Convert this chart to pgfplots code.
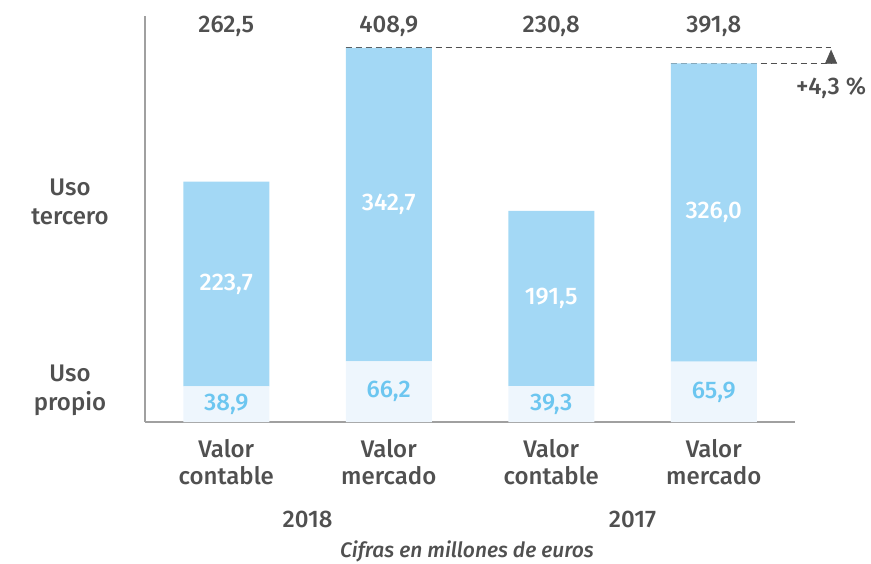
\documentclass[border=0pt]{standalone}
\usepackage{pgfplots}
\pgfplotsset{compat=1.18}
\usepackage{fontspec}
\setmainfont{Fira Sans}[UprightFont=* Medium, ItalicFont=* Medium Italic]
\usetikzlibrary{arrows.meta}
\definecolor{topc}{HTML}{A3D8F5}
\definecolor{botc}{HTML}{EEF6FD}
\definecolor{botlab}{HTML}{6CC6F0}
\definecolor{txt}{HTML}{505050}
\definecolor{axc}{HTML}{A0A0A0}
\begin{document}
\begin{tikzpicture}[x=1pt,y=1pt,font=\fontsize{24}{29}\selectfont]
\path[use as bounding box] (0,0) rectangle (871,563);
\begin{axis}[
  at={(145pt,141pt)}, anchor=south west,
  scale only axis, width=650pt, height=406pt,
  xmin=-0.5, xmax=3.5, ymin=0, ymax=443.7,
  ybar stacked, bar width=86pt,
  axis x line=bottom, axis y line=left,
  axis line style={draw=axc, line width=2pt, -},
  xtick={0,1,2,3}, ytick=\empty,
  xticklabels={{Valor\\contable},{Valor\\mercado},{Valor\\contable},{Valor\\mercado}},
  xticklabel style={align=center, text=txt, font=\fontsize{24}{27}\selectfont, yshift=-14pt},
  major tick length=0pt,
  clip=false,
]
\addplot[fill=botc, draw=none] coordinates {(0,38.9) (1,66.2) (2,39.3) (3,65.9)};
\addplot[fill=topc, draw=none] coordinates {(0,223.7) (1,342.7) (2,191.5) (3,326.0)};
% label anchor coordinates (segment midpoints)
\coordinate (b0) at (axis cs:0,19.45);
\coordinate (b1) at (axis cs:1,33.1);
\coordinate (b2) at (axis cs:2,19.65);
\coordinate (b3) at (axis cs:3,32.95);
\coordinate (t0) at (axis cs:0,150.75);
\coordinate (t1) at (axis cs:1,237.55);
\coordinate (t2) at (axis cs:2,135.05);
\coordinate (t3) at (axis cs:3,228.9);
% totals
\node[txt] at (axis cs:0,443.7) [yshift=-10pt] {262,5};
\node[txt] at (axis cs:1,443.7) [yshift=-10pt] {408,9};
\node[txt] at (axis cs:2,443.7) [yshift=-10pt] {230,8};
\node[txt] at (axis cs:3,443.7) [yshift=-10pt] {391,8};
% comparison
\draw[txt, line width=1pt, dash pattern=on 6pt off 4pt] (axis cs:0.735,408.9) -- (axis cs:3.722,408.9);
\draw[txt, line width=1pt, dash pattern=on 6pt off 4pt] (axis cs:2.735,391.8) -- (axis cs:3.722,391.8);
\draw[txt, line width=0.5pt, -{Triangle[width=12pt,length=14pt]}] (axis cs:3.722,391.8) -- (axis cs:3.722,407.0);
\node[txt] at (axis cs:3.722,365) {+4,3 \%};
% years
\node[txt] at (axis cs:0.5,0) [yshift=-97pt] {2018};
\node[txt] at (axis cs:2.5,0) [yshift=-97pt] {2017};
\end{axis}
\node[botlab] at (b0) {38,9};
\node[botlab] at (b1) {66,2};
\node[botlab] at (b2) {39,3};
\node[botlab] at (b3) {65,9};
\node[white] at (t0) {223,7};
\node[white] at (t1) {342,7};
\node[white] at (t2) {191,5};
\node[white] at (t3) {326,0};
\node[txt, align=center] at (70,361) {Uso\\tercero};
\node[txt, align=center] at (70,173) {Uso\\propio};
\node[txt, font=\fontsize{21}{24}\selectfont\itshape] at (467,12) {Cifras en millones de euros};
\end{tikzpicture}
\end{document}
